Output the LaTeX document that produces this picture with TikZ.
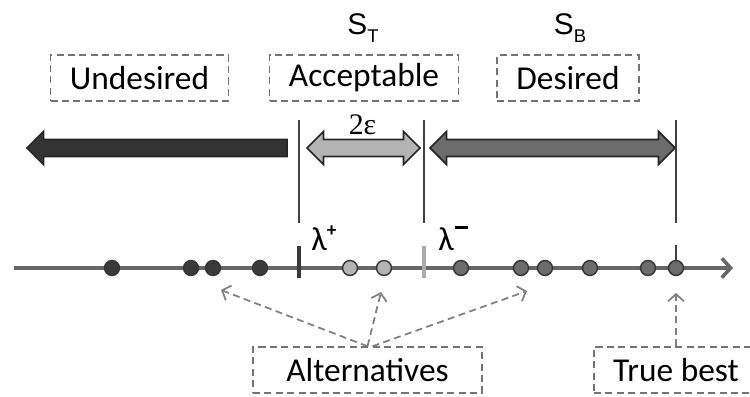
\documentclass[tikz,border=0pt]{standalone}
\usepackage{fontspec}
\setmainfont{Carlito}
\newfontfamily\arialfont{Liberation Sans}
\newfontfamily\timesfont{Liberation Serif}
\usetikzlibrary{calc,arrows.meta}
\definecolor{darkdot}{HTML}{3A3A3A}
\definecolor{lightdot}{HTML}{B4B4B4}
\definecolor{middot}{HTML}{6C6C6C}
\def\singlearrow[#1](#2:#3:#4){\draw[#1] (#2,#4) -- (#2+0.33,#4+0.33) -- (#2+0.33,#4+0.17) -- (#3,#4+0.17) -- (#3,#4-0.17) -- (#2+0.33,#4-0.17) -- (#2+0.33,#4-0.33) -- cycle;}
\def\doublearrow[#1](#2:#3:#4){\draw[#1] (#2,#4) -- (#2+0.33,#4+0.33) -- (#2+0.33,#4+0.17) -- (#3-0.33,#4+0.17) -- (#3-0.33,#4+0.33) -- (#3,#4) -- (#3-0.33,#4-0.33) -- (#3-0.33,#4-0.17) -- (#2+0.33,#4-0.17) -- (#2+0.33,#4-0.33) -- cycle;}

\begin{document}
\begin{tikzpicture}[
		boxlabel/.style={draw=black!55, dash pattern=on 4pt off 2.5pt, line width=1pt, inner xsep=11pt, minimum height=26pt, font=\fontsize{19}{22}\selectfont},
		altdot/.style={circle, draw=black!80, line width=0.8pt, minimum size=8.5pt, inner sep=0pt},
		hintarrow/.style={draw=black!50, dash pattern=on 4pt off 2.5pt, line width=1pt, -{Straight Barb[length=4pt,width=9pt]}},
		blockarrow/.style={draw=black!85, line width=1pt, line join=miter},
	]
		%%%%% START %%%%%
		\useasboundingbox (0,0) rectangle (15,7.94);
		
		% region labels
		\node[boxlabel] (undes) at (2.79, 6.38) {Undesired};
		\node[boxlabel] (accept) at (7.28, 6.38) {Acceptable};
		\node[boxlabel] (des) at (11.36, 6.38) {Desired};
		
		\node[anchor=base, inner sep=0pt] (st) at (7.26, 7.24) {\arialfont\fontsize{17}{20}\selectfont S\raisebox{-4.5pt}{\fontsize{10.5}{12}\selectfont T}};
		\node[anchor=base, inner sep=0pt] (sb) at (11.40, 7.24) {\arialfont\fontsize{17}{20}\selectfont S\raisebox{-4.5pt}{\fontsize{10.5}{12}\selectfont B}};
		
		% block arrows
		\singlearrow[blockarrow, fill=black!80](0.54:5.74:4.98);
		\doublearrow[blockarrow, fill=lightdot](6.14:8.40:4.98);
		\doublearrow[blockarrow, fill=middot](8.60:13.50:4.98);
		\node[anchor=base, inner sep=0pt] (eps) at (7.25, 5.24) {\timesfont\fontsize{17}{20}\selectfont 2ε};
		
		% thresholds
		\draw[black!75, line width=1.1pt] (5.98, 3.48) -- (5.98, 5.54);
		\draw[black!75, line width=1.1pt] (8.48, 3.48) -- (8.48, 5.54);
		\draw[black!75, line width=1.1pt] (13.52, 3.48) -- (13.52, 5.54);
		
		% axis
		\draw[black!60, line width=2pt, -{Straight Barb[length=5pt,width=11pt]}] (0.28, 2.58) -- (14.66, 2.58);
		\draw[darkdot, line width=2.8pt] (5.98, 2.38) -- (5.98, 3.02);
		\draw[black!33, line width=2.8pt] (8.48, 2.38) -- (8.48, 3.02);
		\draw[black!75, line width=1.1pt] (13.52, 2.58) -- (13.52, 3.04);
		
		\node[anchor=base west, inner sep=0pt] (lp) at (6.22, 2.92) {\fontsize{19}{22}\selectfont λ\raisebox{8.5pt}{\fontsize{11}{12}\selectfont\bfseries +}};
		\node[anchor=base west, inner sep=0pt] (lm) at (8.76, 2.92) {\fontsize{19}{22}\selectfont λ\hspace{0.5pt}\raisebox{12.5pt}{\rule{7.5pt}{1.5pt}}};
		
		% alternatives
		\foreach \x [count=\i] in {2.24, 3.82, 4.26, 5.20}
			\node[altdot, fill=darkdot] (u\i) at (\x, 2.58) {};
		\foreach \x [count=\i] in {7.00, 7.68}
			\node[altdot, fill=lightdot] (l\i) at (\x, 2.58) {};
		\foreach \x [count=\i] in {9.22, 10.42, 10.90, 11.80, 12.96, 13.52}
			\node[altdot, fill=middot] (m\i) at (\x, 2.58) {};
		
		% bottom labels
		\node[boxlabel, minimum width=4.58cm] (alt) at (7.35, 0.54) {Alternatives};
		\node[boxlabel] (best) at (13.52, 0.54) {True best};
		
		\coordinate (h1) at (4.42, 2.14);
		\coordinate (h2) at (7.62, 2.10);
		\coordinate (h3) at (10.54, 2.12);
		\coordinate (h4) at (13.52, 2.08);
		\draw[hintarrow] (alt.north) -- (h1);
		\draw[hintarrow] (alt.north) -- (h2);
		\draw[hintarrow] ($(alt.north)+(0.1,0)$) -- (h3);
		\draw[hintarrow] (best.north) -- (h4);
		
		%%%%% END %%%%%
\end{tikzpicture}
\end{document}
